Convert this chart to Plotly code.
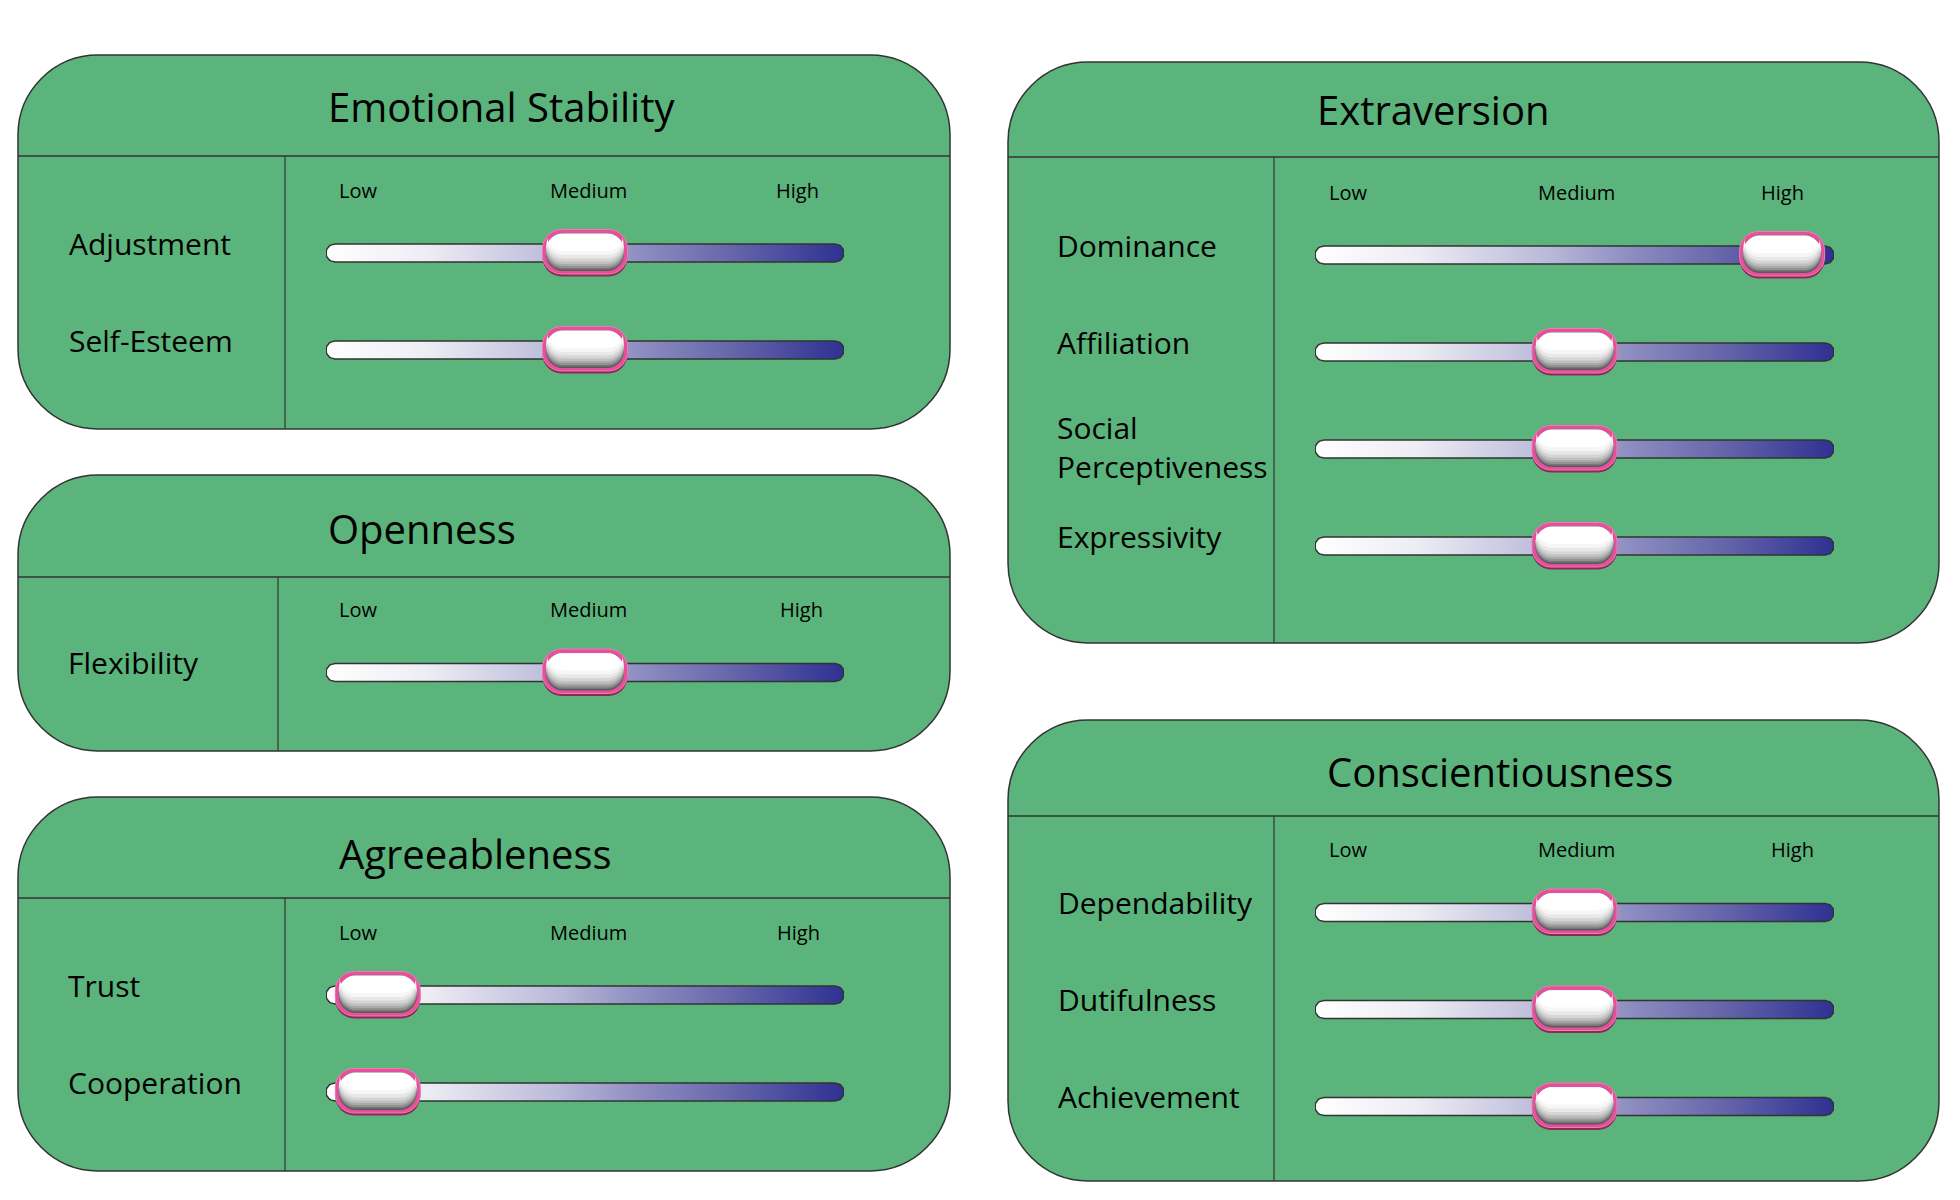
import numpy as np
import plotly.graph_objects as go

# ---------------- data ----------------
panel_titles = ["Emotional Stability", "Openness", "Agreeableness", "Extraversion", "Conscientiousness"]
panel_traits = [
    ["Adjustment", "Self-Esteem"],
    ["Flexibility"],
    ["Trust", "Cooperation"],
    ["Dominance", "Affiliation", "Social<br>Perceptiveness", "Expressivity"],
    ["Dependability", "Dutifulness", "Achievement"],
]
panel_scores = [
    [50, 50],
    [50],
    [10, 10],
    [90, 50, 50, 50],
    [50, 50, 50],
]
level_labels = ["Low", "Medium", "High"]
level_positions = [
    [6.2, 50.6, 91.0],
    [6.2, 50.6, 91.7],
    [6.2, 50.6, 91.3],
    [6.3, 50.3, 90.1],
    [6.3, 50.3, 92.0],
]
SCALE_MIN, SCALE_MAX = 0, 100

# ---------------- layout geometry (pixels) ----------------
W, H = 1960, 1200
# x0, x1, y0, y1, title-line y, divider x
PANEL_BOX = [
    (18, 950, 55, 429, 156, 285),
    (18, 950, 475, 751, 577, 278),
    (18, 950, 797, 1171, 898, 285),
    (1008, 1939, 62, 643, 157, 1274),
    (1008, 1939, 720, 1181, 816, 1274),
]
TRACK_X = [(326, 844), (326, 844), (326, 844), (1315, 1834), (1315, 1834)]
FIRST_ROW_Y = [253, 672.5, 995, 255, 912.5]
ROW_GAP = 97
LABEL_X = [67, 66, 66, 1055, 1056]
TITLE_X = [326, 326, 337, 1315, 1325]
TITLE_Y = [106, 528, 853, 109, 771]
LEVEL_DY = 63
PANEL_R = 80
TRACK_R = 9

GREEN = "#5bb47b"
EDGE = "#333333"
FONT = "Open Sans"
TRACK_SCALE = [[0, "#ffffff"], [0.2, "#ececf4"], [0.45, "#b9b9d9"], [0.6, "#8f8fc2"], [0.8, "#6262a8"], [1, "#2e3192"]]


def rrect_path(x0, x1, y0, y1, r):
    k = 0.5523 * r
    return (f"M {x0+r},{y0} L {x1-r},{y0} C {x1-r+k},{y0} {x1},{y0+r-k} {x1},{y0+r} "
            f"L {x1},{y1-r} C {x1},{y1-r+k} {x1-r+k},{y1} {x1-r},{y1} "
            f"L {x0+r},{y1} C {x0+r-k},{y1} {x0},{y1-r+k} {x0},{y1-r} "
            f"L {x0},{y0+r} C {x0},{y0+r-k} {x0+r-k},{y0} {x0+r},{y0} Z")


fig = go.Figure()
shapes = []
annotations = []

layout_axes = {
    "xaxis": dict(domain=[0, 1], range=[0, W], visible=False, fixedrange=True),
    "yaxis": dict(domain=[0, 1], range=[H, 0], visible=False, fixedrange=True),
}

# invisible trace to keep the base subplot alive
fig.add_trace(go.Scatter(x=[0, W], y=[0, H], mode="markers", marker=dict(opacity=0),
                         hoverinfo="skip", showlegend=False, xaxis="x", yaxis="y"))

THUMB_LAYERS = [
    # half width, bottom, top, radius, fill, line color, line width
    (42.5, -23.5, 20, 19, "#8c2a55", None, 0),
    (42.5, -21, 23.5, 19, "#e4509a", "#f27bb6", 1),
    (39, -18, 19.5, 17, "#5a5a5a", None, 0),
    (39, -16.5, 19.5, 17, "#777777", None, 0),
    (39, -15, 19.5, 17, "#929292", None, 0),
    (39, -13, 19.5, 17, "#aaaaaa", None, 0),
    (39, -11, 19.5, 17, "#c0c0c0", None, 0),
    (39, -8.5, 19.5, 17, "#d5d5d5", None, 0),
    (38.5, -5.5, 19, 16.5, "#e8e8e8", None, 0),
    (38.5, -2, 19, 16, "#f6f6f6", None, 0),
    (38, 2, 19, 15, "#ffffff", None, 0),
]

for p, title in enumerate(panel_titles):
    k = p + 2
    xa, ya = f"x{k}", f"y{k}"
    x0, x1, y0, y1, ly, dx = PANEL_BOX[p]
    tx0, tx1 = TRACK_X[p]
    fy = FIRST_ROW_Y[p]

    layout_axes[f"xaxis{k}"] = dict(domain=[tx0 / W, tx1 / W], range=[SCALE_MIN, SCALE_MAX],
                                    visible=False, fixedrange=True, anchor=ya)
    layout_axes[f"yaxis{k}"] = dict(domain=[0, 1], range=[(H - fy) / ROW_GAP, -fy / ROW_GAP],
                                    visible=False, fixedrange=True, anchor=xa)

    # panel box
    shapes.append(dict(type="path", xref="x", yref="y", layer="below",
                       path=rrect_path(x0, x1, y0, y1, PANEL_R),
                       fillcolor=GREEN, line=dict(color=EDGE, width=1.5)))
    shapes.append(dict(type="line", xref="x", yref="y", layer="below",
                       x0=x0, x1=x1, y0=ly, y1=ly, line=dict(color=EDGE, width=1.5)))
    shapes.append(dict(type="line", xref="x", yref="y", layer="below",
                       x0=dx, x1=dx, y0=ly, y1=y1, line=dict(color=EDGE, width=1.2)))

    annotations.append(dict(xref="x", yref="y", x=TITLE_X[p], y=TITLE_Y[p], text=title,
                            showarrow=False, xanchor="left", yanchor="middle",
                            font=dict(family=FONT, size=40, color="#000000")))

    # level labels
    for lab, pos in zip(level_labels, level_positions[p]):
        annotations.append(dict(xref=xa, yref=ya, x=pos, y=-LEVEL_DY / ROW_GAP, text=lab,
                                showarrow=False, xanchor="center", yanchor="middle",
                                font=dict(family=FONT, size=20, color="#000000")))

    rx = TRACK_R / (tx1 - tx0) * (SCALE_MAX - SCALE_MIN)
    ry = TRACK_R / ROW_GAP
    for r, (trait, score) in enumerate(zip(panel_traits[p], panel_scores[p])):
        # track with rounded ends
        t1 = np.linspace(-np.pi / 2, np.pi / 2, 20)
        t2 = np.linspace(np.pi / 2, 3 * np.pi / 2, 20)
        xs = np.concatenate([SCALE_MAX - rx + rx * np.cos(t1), SCALE_MIN + rx + rx * np.cos(t2)])
        ys = np.concatenate([r + ry * np.sin(t1), r + ry * np.sin(t2)])
        xs = np.append(xs, xs[0])
        ys = np.append(ys, ys[0])
        fig.add_trace(go.Scatter(
            x=xs, y=ys, xaxis=xa, yaxis=ya, mode="lines", fill="toself",
            fillgradient=dict(type="horizontal", colorscale=TRACK_SCALE, start=SCALE_MIN, stop=SCALE_MAX),
            line=dict(color=EDGE, width=1.5), hoverinfo="skip", showlegend=False))

        # thumb
        for (a, b0, b1, rr, fc, lc, lw) in THUMB_LAYERS:
            shapes.append(dict(type="path", xref=xa, yref=ya, xsizemode="pixel", ysizemode="pixel",
                               xanchor=score, yanchor=r, layer="above",
                               path=rrect_path(-a, a, b0, b1, rr), fillcolor=fc,
                               line=dict(color=lc if lc else fc, width=lw)))

        annotations.append(dict(xref="x", yref=ya, x=LABEL_X[p], y=r, text=trait,
                                showarrow=False, xanchor="left", yanchor="middle",
                                yshift=2 if "<br>" in trait else 10, align="left",
                                font=dict(family=FONT, size=30, color="#000000")))

fig.update_layout(
    width=W, height=H,
    margin=dict(l=0, r=0, t=0, b=0),
    paper_bgcolor="#ffffff", plot_bgcolor="rgba(0,0,0,0)",
    showlegend=False,
    shapes=shapes, annotations=annotations,
    **layout_axes,
)

fig.write_html("out.html", config={"displayModeBar": False},
               post_script="document.body.style.margin='0';document.body.style.overflow='hidden';")
